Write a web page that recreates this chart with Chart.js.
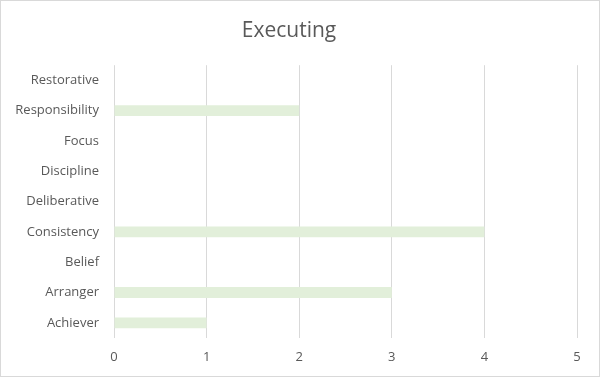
<!DOCTYPE html>
<html>
<head>
<meta charset="utf-8">
<script src="https://cdn.jsdelivr.net/npm/chart.js@4/dist/chart.umd.min.js"></script>
<style>
  body { margin: 0; background: #fff; }
  .frame { width: 600px; height: 377px; border: 1px solid #d9d9d9; box-sizing: border-box; }
  canvas { display: block; }
</style>
</head>
<body>
<div class="frame"><canvas id="chart" width="598" height="375"></canvas></div>
<script>
// top to bottom, as drawn
const categories = ['Restorative', 'Responsibility', 'Focus', 'Discipline', 'Deliberative', 'Consistency', 'Belief', 'Arranger', 'Achiever'];
const counts = [0, 2, 0, 0, 0, 4, 0, 3, 1];
const xTicks = [0, 1, 2, 3, 4, 5];

const textColor = '#595959';
const fontFamily = '"Open Sans", "Liberation Sans", sans-serif';

new Chart(document.getElementById('chart').getContext('2d'), {
  type: 'bar',
  data: {
    labels: categories,
    datasets: [{
      data: counts,
      backgroundColor: '#e2efda',
      borderWidth: 0,
      barPercentage: 0.6,
      categoryPercentage: 0.6,
    }],
  },
  options: {
    indexAxis: 'y',
    animation: false,
    responsive: false,
    layout: { padding: { top: 17, right: 22, bottom: 8, left: 0 } },
    plugins: {
      legend: { display: false },
      tooltip: { enabled: false },
      title: {
        display: true,
        text: 'Executing',
        color: textColor,
        font: { family: fontFamily, size: 21, weight: 'normal' },
        padding: { top: 0, bottom: 22 },
      },
    },
    scales: {
      x: {
        min: 0,
        max: 5,
        afterBuildTicks: (scale) => { scale.ticks = xTicks.map((v) => ({ value: v })); },
        grid: { color: '#d9d9d9', drawTicks: false },
        border: { display: false },
        ticks: { color: textColor, padding: 11, font: { family: fontFamily, size: 13 } },
        afterFit: (scale) => { scale.height = 30; },
      },
      y: {
        grid: { display: false },
        border: { display: false },
        ticks: { color: textColor, padding: 7, font: { family: fontFamily, size: 13 } },
        afterFit: (scale) => { scale.width = 113; },
      },
    },
  },
});
</script>
</body>
</html>
